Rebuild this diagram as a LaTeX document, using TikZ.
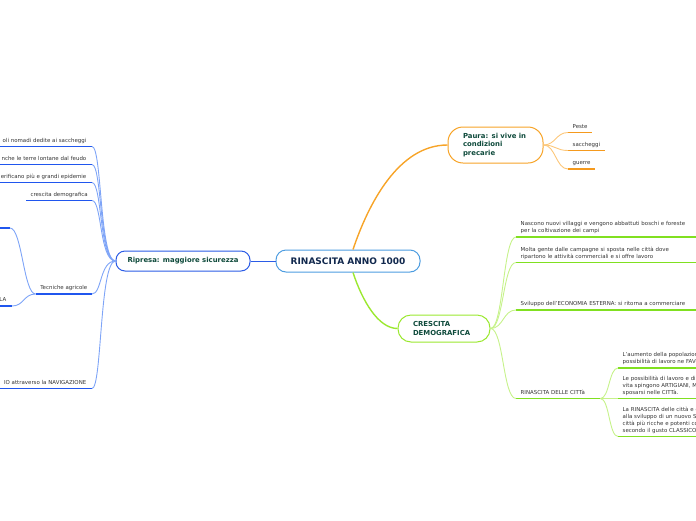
\documentclass[tikz,border=0pt]{standalone}
\usepackage{fontspec}
\setmainfont{DejaVu Sans}
\definecolor{cborder}{HTML}{4D9DE0}
\definecolor{navy}{HTML}{11284D}
\definecolor{ripborder}{HTML}{2B5CE6}
\definecolor{dkgreen}{HTML}{0E4A3B}
\definecolor{bluecurve}{HTML}{7EA4F7}
\definecolor{blueline}{HTML}{2056EE}
\definecolor{orangemain}{HTML}{F7A428}
\definecolor{orangelight}{HTML}{FCC77A}
\definecolor{orangeline}{HTML}{F59A1E}
\definecolor{greenmain}{HTML}{9BE830}
\definecolor{greenlight}{HTML}{C6F28A}
\definecolor{greenline}{HTML}{80E020}
\definecolor{leafgray}{HTML}{333333}
\newcommand\leaffont{\fontsize{5.45}{6.7}\selectfont}
\tikzset{
  leafR/.style={anchor=south west, inner xsep=4.5pt, inner ysep=2.2pt, font=\leaffont, text=leafgray, align=left, execute at end node=\strut},
  leafL/.style={anchor=south east, inner xsep=5.5pt, inner ysep=2.2pt, font=\leaffont, text=leafgray, align=right, execute at end node=\strut},
  topic/.style={draw, line width=1pt, fill=white, font=\fontsize{6.9}{8.3}\selectfont\bfseries, text=dkgreen},
  uline/.style={line width=1.8pt},
}
\begin{document}
\begin{tikzpicture}[x=1pt,y=-1pt]
\useasboundingbox (0,0) rectangle (696,520);
\clip (0,0) rectangle (696,520);

% central
\node[draw=cborder, line width=1pt, rounded corners=10pt, minimum width=144pt, minimum height=22pt, inner sep=0pt,
      font=\fontsize{9}{10.5}\selectfont\bfseries, text=navy] (c) at (348,261) {RINASCITA ANNO 1000};

% Ripresa
\node[topic, draw=ripborder, rounded corners=9pt, minimum width=134pt, minimum height=20pt, inner sep=0pt] (rip) at (183,261) {Ripresa: maggiore sicurezza};
\draw[ripborder, line width=1pt] (c.west) -- (rip.east);

% Paura
\node[topic, draw=orangemain, rounded corners=15pt, minimum width=95pt, minimum height=36pt, inner xsep=15pt, text width=65pt, align=left] (pau) at (495.5,145) {Paura: si vive in\\condizioni\\precarie};
\draw[orangemain, line width=1.4pt] (c.north)++(5,0) coordinate (ctop) (ctop) .. controls (368,205) and (398,145) .. (pau.west);

% Crescita
\node[topic, draw=greenmain, rounded corners=13pt, minimum width=92pt, minimum height=27pt, inner xsep=15pt, text width=62pt, align=left] (cre) at (444,328.5) {CRESCITA\\DEMOGRAFICA};
\draw[greenmain, line width=1.4pt] (c.south)++(5,0) coordinate (cbot) (cbot) .. controls (362,300) and (378,328.5) .. (cre.west);

% left leaves
\node[leafL, text width=150pt] (l1) at (92,146.5) {oli nomadi dedite ai saccheggi};
\node[leafL, text width=150pt] (l2) at (92,164.5) {nche le terre lontane dal feudo};
\node[leafL, text width=150pt] (l3) at (92,182.5) {erificano più e grandi epidemie};
\node[leafL, inner xsep=4pt] (l4) at (92,200.5) {crescita demografica};
\node[leafL, inner xsep=4.5pt] (l5) at (92,294) {Tecniche agricole};
\node[leafL, text width=150pt] (l6) at (92,388.5) {IO attraverso la NAVIGAZIONE};
\node[leafL, text width=60pt] (t1) at (10,228) {};
\node[leafL, text width=60pt] (t2) at (12,306) {LA};

\foreach \n in {l1,l2,l3,l4,l5,l6}{
  \draw[blueline, uline] (\n.south west) -- (\n.south east);
  \draw[bluecurve, line width=0.9pt] (\n.south east) .. controls +(10,0) and +(-16,0) .. (rip.west);
}
\foreach \n in {t1,t2}{
  \draw[blueline, uline] (\n.south west) -- (\n.south east);
  \draw[bluecurve, line width=0.9pt] (\n.south east) .. controls +(12,0) and +(-12,0) .. (l5.south west);
}

% Paura leaves
\node[leafR, inner xsep=4.5pt] (p1) at (568,132.5) {Peste};
\node[leafR, inner xsep=4.5pt] (p2) at (568,150.5) {saccheggi};
\node[leafR, inner xsep=4.5pt] (p3) at (568,169) {guerre};
\foreach \n in {p1,p2,p3}{
  \draw[orangeline, uline] (\n.south west) -- (\n.south east);
  \draw[orangelight, line width=0.9pt] (pau.east) .. controls +(12,0) and +(-12,0) .. (\n.south west);
}

% Crescita leaves
\node[leafR, text width=200pt] (r1) at (516,237) {Nascono nuovi villaggi e vengono abbattuti boschi e foreste\\per la coltivazione dei campi};
\node[leafR, text width=200pt] (r2) at (516,262.5) {Molta gente dalle campagne si sposta nelle città dove\\ripartono le attività commerciali e si offre lavoro};
\node[leafR, text width=200pt] (r3) at (516,310) {Sviluppo dell'ECONOMIA ESTERNA: si ritorna a commerciare};
\node[leafR, text width=75pt] (r4) at (516,398.5) {RINASCITA DELLE CITTà};
\foreach \n in {r1,r2,r3,r4}{
  \draw[greenline, uline] (\n.south west) -- (\n.south east);
  \draw[greenlight, line width=0.9pt] (cre.east) .. controls +(13,0) and +(-13,0) .. (\n.south west);
}

% Rinascita delle citta leaves
\node[leafR, text width=200pt] (s1) at (618,368) {L'aumento della popolazione e le nuove\\possibilità di lavoro ne FAVORISCONO};
\node[leafR, text width=200pt] (s2) at (618,398.5) {Le possibilità di lavoro e di una migliore\\vita spingono ARTIGIANI, MERCANTI\\sposarsi nelle CITTà.};
\node[leafR, text width=200pt] (s3) at (618,436.5) {La RINASCITA delle città e del commercio\\alla sviluppo di un nuovo STILE\\città più ricche e potenti con\\secondo il gusto CLASSICO};
\foreach \n in {s1,s2,s3}{
  \draw[greenline, uline] (\n.south west) -- (\n.south east);
  \draw[greenlight, line width=0.9pt] (r4.south east) .. controls +(9,0) and +(-9,0) .. (\n.south west);
}
\end{tikzpicture}
\end{document}
